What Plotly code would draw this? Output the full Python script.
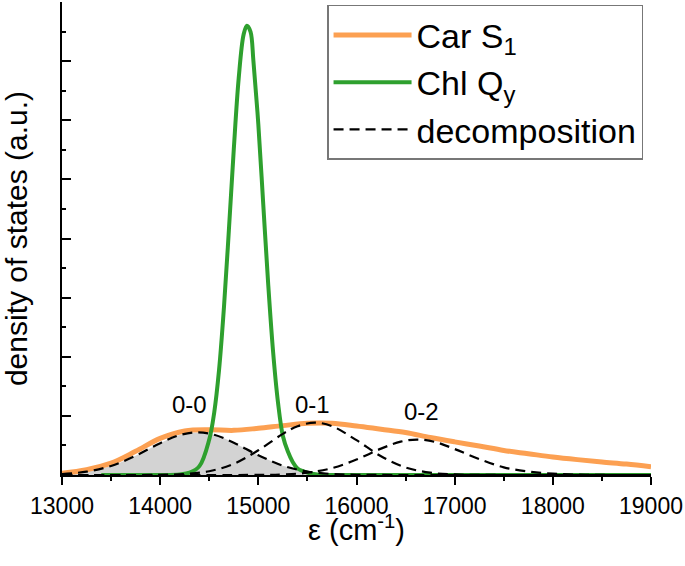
import plotly.graph_objects as go

# ---- data ----
# Car S1 density of states (orange)
car_x = [13000, 13250, 13500, 13750, 14000, 14250, 14500, 14750, 15000, 15250, 15500,
         15750, 16000, 16250, 16500, 16750, 17000, 17250, 17500, 17750, 18000, 18250,
         18500, 18750, 19000]
car_y = [0.03, 0.09, 0.20, 0.40, 0.62, 0.745, 0.765, 0.755, 0.79, 0.835, 0.875,
         0.875, 0.83, 0.775, 0.72, 0.635, 0.56, 0.49, 0.415, 0.36, 0.305, 0.26,
         0.22, 0.185, 0.14]

# Chl Qy density of states (green)
chl_x = [13400, 14000, 14200, 14300, 14400, 14500, 14550, 14600, 14650, 14700, 14750,
         14800, 14850, 14883, 14920, 14950, 15000, 15050, 15100, 15150, 15200, 15250,
         15300, 15350, 15400, 15500, 15600, 16000, 19000]
chl_y = [0.0, 0.0, 0.01, 0.04, 0.15, 0.6, 1.05, 1.78, 2.84, 4.14, 5.51,
         6.71, 7.45, 7.6, 7.5, 7.0, 5.93, 4.58, 3.24, 2.09, 1.23, 0.66,
         0.4, 0.22, 0.11, 0.04, 0.01, 0.0, 0.0]

# vibronic decomposition of Car S1 (dashed)
d00_x = [13000, 13250, 13500, 13750, 14000, 14200, 14380, 14550, 14750, 15000,
         15250, 15500, 15750, 16000, 16500, 19000]
d00_y = [0.016, 0.056, 0.153, 0.325, 0.539, 0.675, 0.72, 0.68, 0.547, 0.334,
         0.158, 0.059, 0.017, 0.004, 0.0, 0.0]

d01_x = [13000, 14000, 14250, 14500, 14750, 15000, 15250, 15400, 15576, 15750,
         16000, 16250, 16500, 16750, 17000, 17500, 19000]
d01_y = [0.0, 0.003, 0.017, 0.064, 0.189, 0.418, 0.696, 0.825, 0.885, 0.826,
         0.589, 0.317, 0.128, 0.039, 0.009, 0.0, 0.0]

d02_x = [13000, 15000, 15250, 15500, 15750, 16000, 16250, 16450, 16620, 16800,
         17000, 17250, 17500, 17750, 18000, 18250, 18500, 19000]
d02_y = [0.0, 0.002, 0.010, 0.039, 0.116, 0.261, 0.446, 0.564, 0.60, 0.559,
         0.439, 0.27, 0.13, 0.06, 0.022, 0.006, 0.001, 0.0]

band_labels = ["0-0", "0-1", "0-2"]
band_label_x = [14298, 15551, 16666]
band_label_y = [1.2, 1.2, 1.07]

x_ticks = [13000, 14000, 15000, 16000, 17000, 18000, 19000]

# ---- styling ----
FONT = "Liberation Sans, Arial, sans-serif"
ORANGE = "#FCA052"
GREEN = "#2EA02E"
DASH = "10px,6px"

fig = go.Figure()

# gray area under the 0-0 component
fig.add_trace(go.Scatter(x=d00_x, y=d00_y, mode="lines", line=dict(width=0, shape="spline"),
                         fill="tozeroy", fillcolor="#D3D3D3", showlegend=False,
                         hoverinfo="skip"))

fig.add_trace(go.Scatter(x=car_x, y=car_y, mode="lines", name="Car S<sub>1</sub>",
                         line=dict(color=ORANGE, width=5, shape="spline")))
fig.add_trace(go.Scatter(x=chl_x, y=chl_y, mode="lines", name="Chl Q<sub>y</sub>",
                         line=dict(color=GREEN, width=4, shape="spline")))

for i, (xs, ys) in enumerate([(d00_x, d00_y), (d01_x, d01_y), (d02_x, d02_y)]):
    fig.add_trace(go.Scatter(x=xs, y=ys, mode="lines", name="decomposition",
                             legendgroup="dec", showlegend=(i == 0),
                             line=dict(color="black", width=2.2, dash=DASH, shape="spline")))

for t, lx, ly in zip(band_labels, band_label_x, band_label_y):
    fig.add_annotation(x=lx, y=ly, text=t, showarrow=False,
                       font=dict(family=FONT, size=24, color="black"))

# x-axis title, placed as in the reference
fig.add_annotation(x=0.5, y=-0.112, xref="paper", yref="paper", yanchor="middle",
                   text="ε (cm<sup>-1</sup>)", showarrow=False,
                   font=dict(family=FONT, size=29, color="black"))

fig.update_layout(
    width=685, height=566,
    margin=dict(l=62, r=34, t=2, b=91),
    paper_bgcolor="white", plot_bgcolor="white",
    font=dict(family=FONT, color="black"),
    showlegend=True,
    legend=dict(x=0.45, y=0.994, xanchor="left", yanchor="top",
                bgcolor="white", bordercolor="#777777", borderwidth=1.5,
                font=dict(family=FONT, size=34, color="black"),
                itemwidth=78, tracegroupgap=0),
)

fig.update_xaxes(
    range=[13000, 19000], tickvals=x_ticks, ticktext=[str(v) for v in x_ticks],
    automargin=False, ticklabelstandoff=1,
    showgrid=False, zeroline=False, showline=True, linecolor="black", linewidth=2,
    ticks="outside", ticklen=8, tickwidth=2, tickcolor="black",
    tickfont=dict(family=FONT, size=23, color="black"),
    minor=dict(dtick=500, ticks="outside", ticklen=4, tickwidth=2, tickcolor="black"),
)
fig.update_yaxes(
    range=[0, 8], dtick=1, showticklabels=False, automargin=False,
    showgrid=False, zeroline=False, showline=True, linecolor="black", linewidth=2,
    ticks="inside", ticklen=9, tickwidth=2, tickcolor="black",
    minor=dict(dtick=0.5, ticks="inside", ticklen=4, tickwidth=2, tickcolor="black"),
    title=dict(text="density of states (a.u.)", standoff=32,
               font=dict(family=FONT, size=30, color="black")),
)

fig.write_html("out.html", config={"displayModeBar": False},
               post_script="document.body.style.margin='0px';")
